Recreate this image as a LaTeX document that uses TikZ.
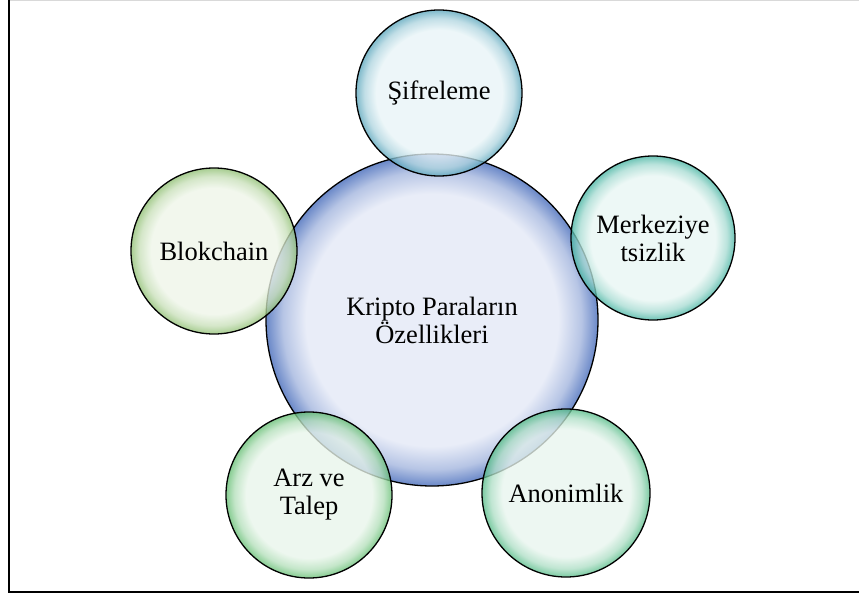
\documentclass[tikz,border=0pt]{standalone}
\usepackage{fontspec}
\setmainfont{Liberation Serif}
\usetikzlibrary{positioning}

\definecolor{kripin}{HTML}{E9EDF8}\definecolor{kriprim}{HTML}{6A88C8}
\definecolor{sifin}{HTML}{E8F4F7}\definecolor{sifrim}{HTML}{5AA6BC}
\definecolor{merkin}{HTML}{E8F6F3}\definecolor{merkrim}{HTML}{46B4A2}
\definecolor{blokin}{HTML}{EEF5E8}\definecolor{blokrim}{HTML}{8FBF72}
\definecolor{arzin}{HTML}{E8F5EA}\definecolor{arzrim}{HTML}{64BE72}
\definecolor{anonin}{HTML}{E8F5EE}\definecolor{anonrim}{HTML}{56BC88}

% glossy bubble shading: pale inside, coloured rim
\newcommand{\bubshade}[3]{%
  \pgfdeclareradialshading{#1}{\pgfpoint{0bp}{0bp}}{%
    color(0bp)=(#2);color(19bp)=(#2);color(22.5bp)=(#3!40!#2);
    color(25bp)=(#3);color(50bp)=(#3)}}
\bubshade{kripshade}{kripin}{kriprim}
\bubshade{sifshade}{sifin}{sifrim}
\bubshade{merkshade}{merkin}{merkrim}
\bubshade{blokshade}{blokin}{blokrim}
\bubshade{arzshade}{arzin}{arzrim}
\bubshade{anonshade}{anonin}{anonrim}

\begin{document}
\begin{tikzpicture}[x=1pt,y=-1pt,
  every node/.style={font=\fontsize{26.5}{28}\selectfont},
  bub/.style={circle,draw=black,line width=1.3pt,align=center,
    inner sep=0pt,minimum size=166pt,shading=#1},
  sat/.style={bub=#1,fill opacity=0.78,text opacity=1}]
  \useasboundingbox (0,0) rectangle (859,599);
  \draw[black!15,line width=1pt] (9,0.5) -- (859,0.5);
  \draw[line width=1.6pt] (9,0) -- (9,592) -- (859,592);
  \node[bub=kripshade,minimum size=332pt] (krip) at (432,320) {Kripto Paraların\\Özellikleri};
  \node[sat=sifshade] (sif) at (439,93) {Şifreleme};
  \node[sat=merkshade,minimum size=164pt] (merk) at (653,238) {Merkeziye\\tsizlik};
  \node[sat=blokshade] (blok) at (214,251) {Blokchain};
  \node[sat=arzshade] (arz) at (309,495) {Arz ve\\Talep};
  \node[sat=anonshade,minimum size=168pt] (anon) at (566,493) {Anonimlik};
\end{tikzpicture}
\end{document}
